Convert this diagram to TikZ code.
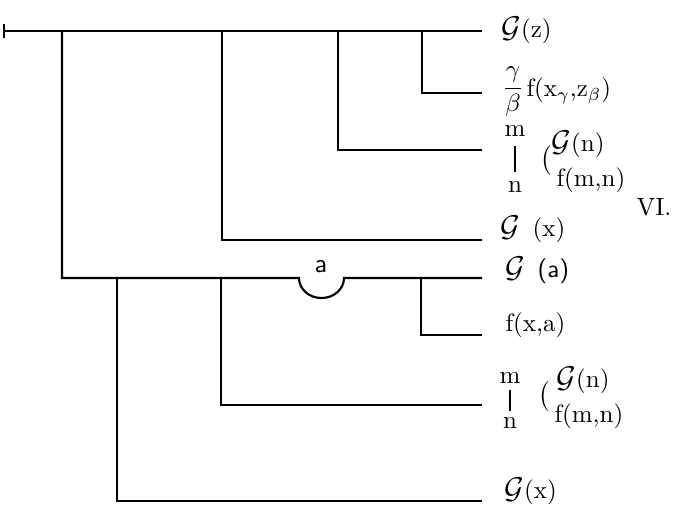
\documentclass[tikz,border=0pt]{standalone}
\usetikzlibrary{positioning}
\newcommand{\scrG}{\mbox{\fontsize{11.5}{12}\selectfont$\mathcal{G}$}}

\begin{document}
\begin{tikzpicture}[x=0.4pt,y=0.4pt,
  stroke/.style={line width=0.85pt},
  every node/.style={font=\fontsize{10}{12}\selectfont},
  lbl/.style={anchor=west,inner sep=0pt},
  idx/.style={inner sep=1pt},
  bar/.style={line width=0.5pt,shorten <=#1,shorten >=#1}]
\useasboundingbox (0,0) rectangle (684,-509);

% ends of the strokes
\coordinate (s) at (4,-31);
\coordinate (e0) at (482,-31);
\coordinate (e1) at (482,-93);
\coordinate (e2) at (482,-150);
\coordinate (e3) at (482,-240);
\coordinate (e4) at (482,-278);
\coordinate (e5) at (482,-335);
\coordinate (e6) at (482,-405);
\coordinate (e7) at (482,-501);

% judgement and content stroke
\draw[stroke] (s) ++(0,7) -- ++(0,-14);
\draw[stroke] (s) -- (e0);
% conditions
\draw[stroke] (422,-31) |- (e1);
\draw[stroke] (338,-31) |- (e2);
\draw[stroke] (222,-31) |- (e3);
\draw[stroke] (62,-31) |- (299,-278)
  arc[start angle=180,end angle=360,x radius=22.5,y radius=20] -- (e4);
\draw[stroke] (421,-278) |- (e5);
\draw[stroke] (221,-278) |- (e6);
\draw[stroke] (117,-278) |- (e7);

\node[font=\fontsize{10.5}{12}\sffamily] (a) at (321,-267) {a};

% upper block
\node[lbl] (gz) at (501,-30) {\scrG(z)};
\node (gb) at (513,-92) {$\displaystyle\frac{\gamma}{\beta}$};
\node[lbl] (fxz) at (526,-91) {f(x$_{\gamma}$,z$_{\beta}$)};
\node[idx] (m1) at (515,-131) {m};
\node[idx] (n1) at (515,-187) {n};
\draw[bar=2.5pt] (m1) -- (n1);
\node (p1) at (546,-160) {$\big($};
\node[lbl] (gn1) at (551,-144) {\scrG(n)};
\node[lbl] (fmn1) at (556,-180) {f(m,n)};
\node[lbl] (gx1) at (500,-229) {\scrG\enspace(x)};
\node (vi) at (654,-207) {VI.};

% lower block
\node[lbl] (ga) at (505,-270) {\scrG\enspace\textsf{(a)}};
\node[lbl] (fxa) at (505,-325) {f(x,a)};
\node[idx] (m2) at (510,-378) {m};
\node[idx] (n2) at (510,-423) {n};
\draw[bar=1.5pt] (m2) -- (n2);
\node (p2) at (544,-396) {$\big($};
\node[lbl] (gn2) at (556,-380) {\scrG(n)};
\node[lbl] (fmn2) at (554,-416) {f(m,n)};
\node[lbl] (gx2) at (504,-491) {\scrG(x)};
\end{tikzpicture}
\end{document}
